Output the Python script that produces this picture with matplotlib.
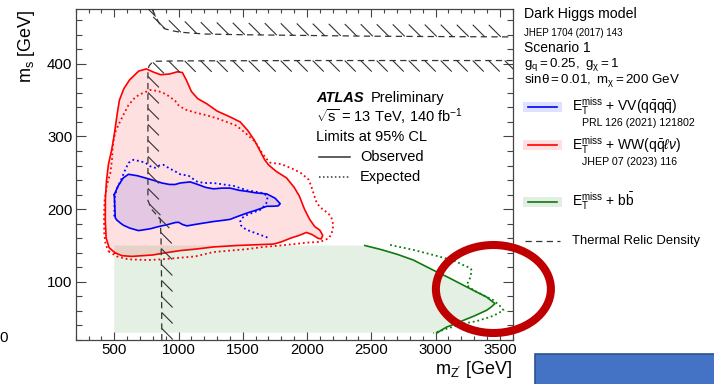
import numpy as np
import matplotlib
matplotlib.use("Agg")
import matplotlib.pyplot as plt
from matplotlib.collections import LineCollection
from matplotlib.patches import Polygon, Ellipse, Rectangle
from matplotlib.ticker import MultipleLocator

plt.rcParams['font.family'] = ['Liberation Sans', 'DejaVu Sans']
plt.rcParams['mathtext.fontset'] = 'custom'
plt.rcParams['mathtext.rm'] = 'Liberation Sans'
plt.rcParams['mathtext.it'] = 'Liberation Sans:italic'
plt.rcParams['mathtext.bf'] = 'Liberation Sans:bold'
plt.rcParams['mathtext.sf'] = 'Liberation Sans'

# ---------------- exclusion contours (m_Z' [GeV], m_s [GeV]) ----------------
# E_T^miss + WW(qq l nu), observed (closed)
ww_obs_mz = [505, 460, 437, 430, 431, 440, 455, 478, 498, 510, 522, 540, 575, 620, 690,
             750, 800, 860, 930, 990, 1030, 1060, 1100, 1150, 1220, 1300, 1400, 1480,
             1540, 1590, 1635, 1670, 1700, 1760, 1840, 1900, 1940, 1980, 2020, 2060,
             2100, 2122, 2110, 2085, 2040, 1995, 1940, 1870, 1800, 1740, 1600, 1450,
             1272, 1130, 1013, 900, 800, 637, 560, 505]
ww_obs_ms = [140, 147, 160, 185, 215, 240, 262, 280, 300, 315, 330, 350, 366, 378, 390,
             393, 389, 385, 386, 389, 388, 378, 362, 352, 345, 335, 327, 320,
             308, 295, 280, 268, 261, 252, 243, 230, 218, 200, 186, 176,
             171, 164, 159, 160, 165, 168, 164, 160, 155, 152, 151, 150,
             148, 145, 143, 140, 137, 135, 136, 140]

# E_T^miss + WW(qq l nu), expected (closed)
ww_exp_mz = [456, 520, 610, 760, 871, 1000, 1130, 1272, 1400, 1532, 1660, 1791, 1900,
             1998, 2101, 2170, 2192, 2205, 2190, 2167, 2120, 2076, 2050, 2030, 2011,
             1950, 1894, 1800, 1713, 1680, 1648, 1600, 1532, 1450, 1300, 1200, 1130,
             1052, 1000, 974, 920, 871, 820, 780, 700, 663, 610, 572, 530, 508, 490,
             482, 470, 445, 425, 420, 422, 432, 456]
ww_exp_ms = [142, 135, 131, 130, 131, 133, 135, 141, 143, 145, 148, 150, 152,
             154, 155, 160, 167, 178, 188, 194, 200, 208, 222, 233, 241,
             250, 255, 262, 264, 270, 278, 292, 303, 315, 325, 330, 333,
             337, 343, 349, 356, 361, 363, 364, 358, 354, 343, 330, 315, 306, 290,
             268, 250, 235, 213, 190, 167, 152, 142]

# E_T^miss + VV(qqqq), observed (closed)
vv_obs_mz = [500, 530, 570, 611, 680, 741, 800, 871, 930, 974, 1013, 1091, 1150, 1210,
             1272, 1340, 1402, 1470, 1532, 1600, 1687, 1752, 1791, 1775, 1730, 1687,
             1610, 1532, 1460, 1402, 1340, 1272, 1200, 1130, 1065, 1030, 1000, 974,
             920, 844, 780, 689, 620, 570, 547, 520, 508, 500]
vv_obs_ms = [220, 232, 243, 248, 246, 243, 240, 236, 234, 234, 236, 237.5, 234, 230,
             228, 229, 229, 226, 224.5, 222.5, 221, 215, 207.5, 204.5, 204, 204,
             199, 194.6, 190, 186, 184.5, 183, 181, 179, 177, 179, 182, 181.6,
             179, 176, 173, 170.5, 174, 178, 181, 185, 188, 220]

# E_T^miss + VV(qqqq), expected (open)
vv_exp_mz = [500, 502, 505, 520, 547, 580, 611, 650, 700, 741, 780, 819, 850, 883, 930,
             974, 1013, 1078, 1143, 1200, 1272, 1350, 1428, 1480, 1532, 1600, 1661,
             1692, 1690, 1682, 1660, 1635, 1590, 1532, 1495, 1480, 1485, 1500, 1532,
             1600, 1692]
vv_exp_ms = [190, 205, 218, 228, 238, 252, 263.7, 268, 266, 264, 259, 257, 260, 261, 256,
             252, 248, 246, 238, 236, 236, 234, 232, 229, 226, 224, 222,
             217.6, 212, 208, 203, 199, 196, 192, 188, 183, 178, 175, 171.5,
             167, 161]

# E_T^miss + bb, observed and expected
bb_obs_mz = [2450, 2568, 2700, 2827, 2983, 3100, 3216, 3320, 3398, 3462, 3430, 3398,
             3300, 3216, 3150, 3086, 3040, 3009]
bb_obs_ms = [150, 144.8, 138, 130, 116, 106, 95.4, 86, 79, 70, 65, 61,
             53, 47, 42, 37.8, 33, 29.5]
bb_exp_mz = [2646, 2827, 2960, 3086, 3160, 3216, 3270, 3281, 3270, 3242, 3300, 3346,
             3400, 3450, 3500, 3528, 3480, 3424, 3320, 3216, 3150, 3086, 3030, 2983]
bb_exp_ms = [150.8, 144, 138, 132, 128, 123, 119, 116, 106, 95.4, 88, 84,
             79, 74.7, 67, 61, 56, 51.6, 46, 42.5, 39, 35.5, 32, 29.5]
bb_fill_left = 500
bb_fill_bottom = 30

# Thermal relic density curves
relic_up_mz = [795, 820, 842, 870, 897, 950, 1013, 1200, 1500, 2000, 2500, 3000, 3600]
relic_up_ms = [475, 466, 458, 451, 448, 445.5, 443.5, 441, 440, 439, 438, 437.5, 437]
relic_lo_mz = [3600, 3000, 2000, 1000, 820, 790, 770, 762, 762, 762, 762, 790, 830,
               858, 864, 868, 870]
relic_lo_ms = [404.5, 404.5, 404.5, 404, 403.5, 401, 397, 390, 300, 230, 212, 200,
               192, 186, 160, 100, 20]

x_ticks = [500, 1000, 1500, 2000, 2500, 3000, 3500]
y_ticks = [100, 200, 300, 400]

# ---------------- figure ----------------
W, H = 714, 384
fig = plt.figure(figsize=(W / 100, H / 100), dpi=100)


def fx(px):
    return px / W


def fy(py):
    return 1 - py / H


ax = fig.add_axes([fx(75.7), fy(340), (512.7 - 75.7) / W, (340 - 9.3) / H])
ax.set_xlim(200, 3600)
ax.set_ylim(20, 475)

RED = '#ff0000'
BLUE = '#0000ff'
GREEN = '#0f7a0f'
RELIC = '#333333'

# green fill (bb) bounded by observed curve
gfill = [(bb_fill_left, bb_fill_bottom), (bb_fill_left, 150)] + \
    list(zip(bb_obs_mz, bb_obs_ms)) + [(bb_obs_mz[-1], bb_fill_bottom)]
ax.add_patch(Polygon(gfill, closed=True, facecolor='#1f8a1f', alpha=0.12,
                     edgecolor='none', zorder=1))
ax.add_patch(Polygon(list(zip(ww_obs_mz, ww_obs_ms)), closed=True, facecolor=RED,
                     alpha=0.12, edgecolor='none', zorder=2))
ax.add_patch(Polygon(list(zip(vv_obs_mz, vv_obs_ms)), closed=True, facecolor=BLUE,
                     alpha=0.11, edgecolor='none', zorder=3))

ax.plot(ww_obs_mz, ww_obs_ms, color=RED, lw=1.2, zorder=5)
ax.plot(ww_exp_mz, ww_exp_ms, color=RED, lw=1.3, ls=(0, (1, 1.6)), zorder=5)
ax.plot(vv_obs_mz, vv_obs_ms, color=BLUE, lw=1.2, zorder=6)
ax.plot(vv_exp_mz, vv_exp_ms, color=BLUE, lw=1.3, ls=(0, (1, 1.6)), zorder=6)
ax.plot(bb_obs_mz, bb_obs_ms, color=GREEN, lw=1.2, zorder=5)
ax.plot(bb_exp_mz, bb_exp_ms, color=GREEN, lw=1.3, ls=(0, (1, 1.6)), zorder=5)


def relic_curve(xs, ys, offset, spacing=16.0):
    ax.plot(xs, ys, color=RELIC, lw=0.9, ls=(0, (5, 3.5)), zorder=7)
    pts = ax.transData.transform(np.column_stack([xs, ys]))
    d = np.diff(pts, axis=0)
    cum = np.concatenate([[0], np.cumsum(np.hypot(d[:, 0], d[:, 1]))])
    s = np.arange(spacing / 2, cum[-1], spacing)
    base = np.column_stack([np.interp(s, cum, pts[:, 0]), np.interp(s, cum, pts[:, 1])])
    tip = base + np.asarray(offset)
    inv = ax.transData.inverted()
    segs = [[inv.transform(a), inv.transform(b)] for a, b in zip(base, tip)]
    ax.add_collection(LineCollection(segs, colors=RELIC, linewidths=0.8, zorder=7))


relic_curve(relic_up_mz, relic_up_ms, (-12, 12))
relic_curve(relic_lo_mz, relic_lo_ms, (11, -11))

# axes style
for sp in ax.spines.values():
    sp.set_color('#444444')
    sp.set_linewidth(0.9)
ax.set_xticks(x_ticks)
ax.set_yticks(y_ticks)
ax.xaxis.set_minor_locator(MultipleLocator(100))
ax.yaxis.set_minor_locator(MultipleLocator(20))
ax.tick_params(which='both', direction='in', top=True, right=True, color='#444444',
               width=0.8, labelsize=10.8, pad=2.5)
ax.tick_params(axis='x', which='major', length=5.5)
ax.tick_params(axis='x', which='minor', length=3)
ax.tick_params(axis='y', which='major', length=7.5)
ax.tick_params(axis='y', which='minor', length=4)

fig.text(fx(512), fy(370), r"$\mathrm{m_{Z'}}$ [GeV]", fontsize=13, ha='right', va='center')
fig.text(fx(27), fy(9.3), r"$\mathrm{m_s}$ [GeV]", fontsize=13, ha='center', va='top',
         rotation=90)
fig.text(fx(7.5), fy(338), '0', fontsize=10.8, ha='right', va='center')

# in-plot labels
fig.text(fx(316), fy(98), 'ATLAS', fontsize=10.5, fontweight='bold', fontstyle='italic',
         va='center')
fig.text(fx(371), fy(98), 'Preliminary', fontsize=10.5, va='center')
fig.text(fx(316), fy(117), r'$\sqrt{\mathrm{s}}$ = 13 TeV, 140 fb$^{-1}$', fontsize=10.5,
         va='center')
fig.text(fx(316), fy(137), 'Limits at 95% CL', fontsize=10.5, va='center')
fig.add_artist(plt.Line2D([fx(319), fx(350)], [fy(157), fy(157)], color='#333333', lw=1.1))
fig.text(fx(360), fy(157), 'Observed', fontsize=10.5, va='center')
fig.add_artist(plt.Line2D([fx(319), fx(350)], [fy(176.5), fy(176.5)], color='#333333',
                          lw=1.1, ls=(0, (1, 1.6))))
fig.text(fx(360), fy(176.5), 'Expected', fontsize=10.5, va='center')

# model block at the right
tx = 524
fig.text(fx(tx), fy(14), 'Dark Higgs model', fontsize=10.2, va='center')
fig.text(fx(tx), fy(33), 'JHEP 1704 (2017) 143', fontsize=7, va='center')
fig.text(fx(tx), fy(47.5), 'Scenario 1', fontsize=10, va='center')
fig.text(fx(tx), fy(65), r'$\mathrm{g_q = 0.25,\ g_\chi = 1}$', fontsize=9.6, va='center')
fig.text(fx(tx), fy(81), r'$\mathrm{sin\theta = 0.01,\ m_\chi = 200\ GeV}$', fontsize=9.6,
         va='center')

entries = [
    (106.5, BLUE, '#e0e0ff', r'$\mathrm{E_T^{miss}}$ + VV(q$\mathrm{\bar{q}}$q$\mathrm{\bar{q}}$)',
     'PRL 126 (2021) 121802'),
    (145, RED, '#ffe0e0', r'$\mathrm{E_T^{miss}}$ + WW(q$\mathrm{\bar{q}}\ell\nu$)',
     'JHEP 07 (2023) 116'),
    (201.5, GREEN, '#e2eee2', r'$\mathrm{E_T^{miss}}$ + b$\mathrm{\bar{b}}$', None),
]
for py, col, fc, lab, ref in entries:
    fig.add_artist(Rectangle((fx(523), fy(py + 5)), (562 - 523) / W, 10 / H,
                             transform=fig.transFigure, facecolor=fc, edgecolor='none'))
    fig.add_artist(plt.Line2D([fx(528), fx(557)], [fy(py), fy(py)], color=col, lw=1.2))
    fig.text(fx(572), fy(py), lab, fontsize=10, va='center')
    if ref:
        fig.text(fx(581.5), fy(py + 16.5), ref, fontsize=7.7, va='center')

fig.add_artist(plt.Line2D([fx(525), fx(560)], [fy(241), fy(241)], color=RELIC, lw=0.9,
                          ls=(0, (5, 3.5))))
fig.text(fx(572), fy(241), 'Thermal Relic Density', fontsize=9.4, va='center')

# highlight ellipse and box
fig.add_artist(Ellipse((fx(493.4), fy(289)), 115 / W, 88 / H, transform=fig.transFigure,
                       facecolor='none', edgecolor='#c00000', lw=5.8, zorder=20))
fig.add_artist(Rectangle((fx(535), fy(390)), 200 / W, 36 / H, transform=fig.transFigure,
                         facecolor='#4472c4', edgecolor='#2f528f', lw=1.2, zorder=20))

fig.savefig('out.png', dpi=100)
